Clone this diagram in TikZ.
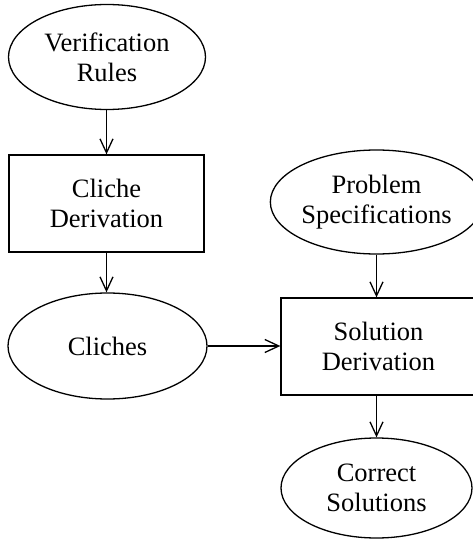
\documentclass[tikz,border=0pt]{standalone}
\usepackage{fontspec}
\setmainfont{Liberation Serif}
\usetikzlibrary{shapes.geometric,arrows.meta}
\begin{document}
\begin{tikzpicture}[x=1pt,y=-1pt,
  every node/.style={font=\fontsize{26.5}{30}\selectfont, align=center, inner sep=0pt, line width=1.3pt},
  oval/.style={draw, ellipse},
  box/.style={draw, rectangle},
  flow/.style={line width=1.3pt, -{Straight Barb[length=14pt,width=13pt,line width=1.3pt]}}]
  \useasboundingbox (0,0) rectangle (473,540);
  % left column
  \node[oval, minimum width=197pt, minimum height=105pt] (rules) at (107,57) {Verification\\Rules};
  \node[box, minimum width=195pt, minimum height=97pt] (cderiv) at (106.5,203.5) {Cliche\\Derivation};
  \node[oval, minimum width=199pt, minimum height=106pt] (cliches) at (107.5,346) {Cliches};
  % right column
  \node[oval, minimum width=191pt, minimum height=104pt] (spec) at (376.5,202) {Problem\\Specifications};
  \node[box, minimum width=195pt, minimum height=97pt] (sderiv) at (378.5,346.5) {Solution\\Derivation};
  \node[oval, minimum width=191pt, minimum height=100pt] (correct) at (376.5,488) {Correct\\Solutions};
  % connectors
  \draw[flow] (rules.south -| cderiv.north) -- (cderiv.north);
  \draw[flow] (cderiv.south) -- (cliches.north -| cderiv.south);
  \draw[flow] (cliches.east) -- (sderiv.west |- cliches.east);
  \draw[flow] (spec.south) -- (sderiv.north -| spec.south);
  \draw[flow] (sderiv.south -| correct.north) -- (correct.north);
\end{tikzpicture}
\end{document}
